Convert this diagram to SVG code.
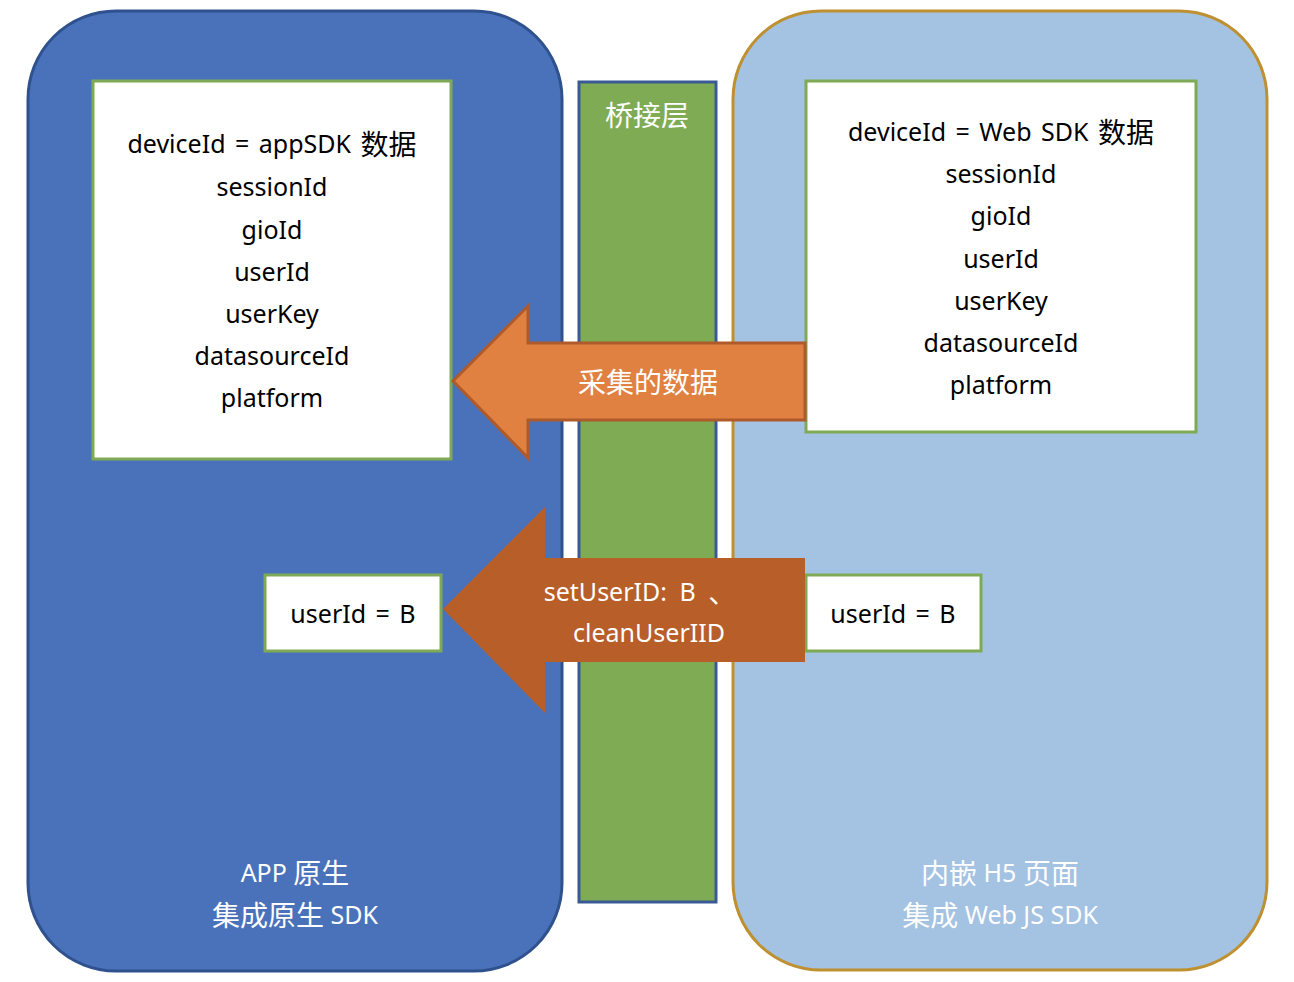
<svg xmlns="http://www.w3.org/2000/svg" width="1294" height="982" viewBox="0 0 1294 982">
<style>
.t{font-family:"Noto Sans","Noto Sans CJK SC",sans-serif;font-size:25px;text-anchor:middle;dominant-baseline:central}
.c{font-family:"Noto Sans CJK SC",sans-serif;font-size:28px}
.k{fill:#000}
.w{fill:#fff}
.box{fill:#fff;stroke:#7EAA55;stroke-width:3}
</style>
<rect width="1294" height="982" fill="#fff"/>
<g id="app">
<rect x="28" y="11" width="534" height="960" rx="88" ry="88" fill="#4A72BB" stroke="#2F528F" stroke-width="3"/>
<text class="t w" x="295" y="872">APP <tspan class="c">原生</tspan></text>
<text class="t w" x="295" y="914"><tspan class="c">集成原生</tspan> SDK</text>
</g>
<g id="bridge">
<rect x="579" y="82" width="137" height="820" fill="#7FAB55" stroke="#3A5A96" stroke-width="3"/>
<text class="t w c" x="647" y="114">桥接层</text>
</g>
<g id="h5">
<rect x="733" y="11" width="534" height="959" rx="88" ry="88" fill="#A4C2E1" stroke="#BF9030" stroke-width="3"/>
<text class="t w" x="1000" y="872"><tspan class="c">内嵌</tspan> H5 <tspan class="c">页面</tspan></text>
<text class="t w" x="1000" y="914"><tspan class="c">集成</tspan> Web JS SDK</text>
</g>
<g id="appdata">
<rect class="box" x="93" y="81" width="358" height="378"/>
<text class="t k" x="272" y="143" word-spacing="3">deviceId = appSDK <tspan class="c">数据</tspan></text>
<text class="t k" x="272" y="186">sessionId</text>
<text class="t k" x="272" y="229">gioId</text>
<text class="t k" x="272" y="271">userId</text>
<text class="t k" x="272" y="313">userKey</text>
<text class="t k" x="272" y="355">datasourceId</text>
<text class="t k" x="272" y="397">platform</text>
</g>
<g id="webdata">
<rect class="box" x="806" y="81" width="390" height="351"/>
<text class="t k" x="1001" y="131" word-spacing="3">deviceId = Web SDK <tspan class="c">数据</tspan></text>
<text class="t k" x="1001" y="173">sessionId</text>
<text class="t k" x="1001" y="215">gioId</text>
<text class="t k" x="1001" y="258">userId</text>
<text class="t k" x="1001" y="300">userKey</text>
<text class="t k" x="1001" y="342">datasourceId</text>
<text class="t k" x="1001" y="384">platform</text>
</g>
<g id="appuser">
<rect class="box" x="265" y="575" width="176" height="76"/>
<text class="t k" x="353" y="613" word-spacing="3">userId = B</text>
</g>
<g id="webuser">
<rect class="box" x="806" y="575" width="175" height="76"/>
<text class="t k" x="893" y="613" word-spacing="3">userId = B</text>
</g>
<g id="connectors">
<g id="collect">
<polygon points="805,343 528,343 528,306 453,381 528,458 528,420 805,420" fill="#E08142" stroke="#AE5A2A" stroke-width="3"/>
<text class="t w c" x="648" y="381">采集的数据</text>
</g>
<g id="setuser">
<polygon points="805,558 545,558 545,507 443,609 545,713 545,662 805,662" fill="#B85E28"/>
<text class="t w" x="640" y="591" word-spacing="6">setUserID: B <tspan class="c">、</tspan></text>
<text class="t w" x="649" y="632">cleanUserIID</text>
</g>
</g>
</svg>
